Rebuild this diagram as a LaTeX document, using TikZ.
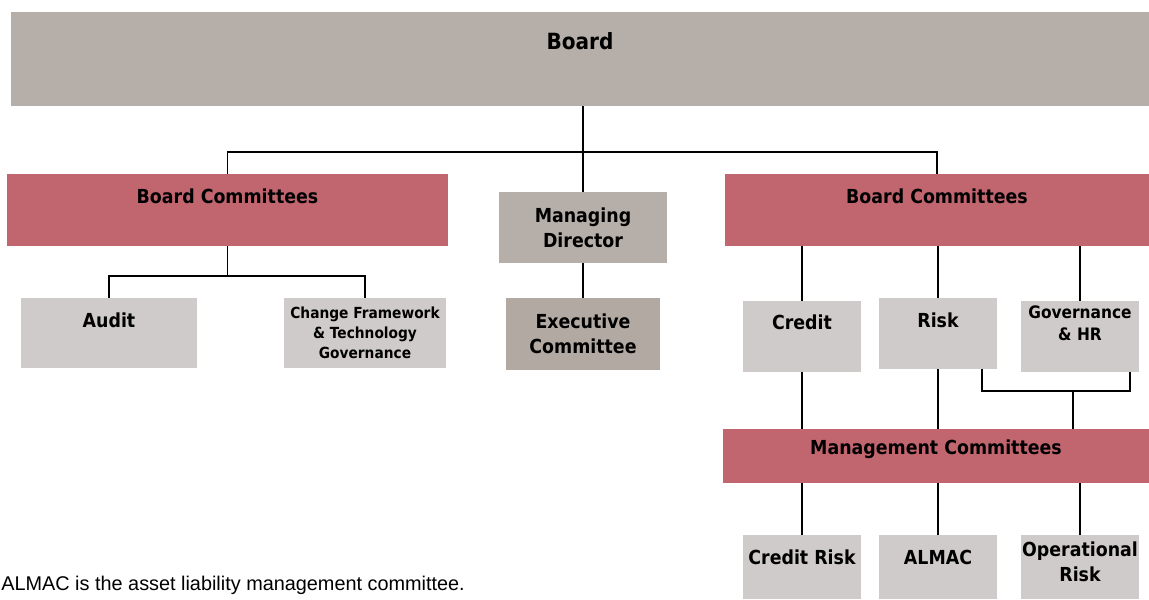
\documentclass[tikz,border=0pt]{standalone}
\usepackage{fontspec}
\setmainfont{DejaVu Sans}[FakeStretch=0.9]
\newfontfamily\notefont{Liberation Sans}
\usetikzlibrary{positioning}

\definecolor{boardtan}{HTML}{B6AEA8}
\definecolor{exectan}{HTML}{B2A9A2}
\definecolor{comrose}{HTML}{C1656F}
\definecolor{subgrey}{HTML}{CFCBCA}

\begin{document}
\begin{tikzpicture}[
      x=0.02cm, y=-0.02cm,
      box/.style={rectangle,inner sep=0pt,align=center,
        font=\bfseries\fontsize{11}{14.2}\selectfont},
      tan/.style={box,fill=boardtan},
      rose/.style={box,fill=comrose,minimum height=1.44cm},
      pale/.style={box,fill=subgrey},
      link/.style={draw=black,line width=0.75pt},
      trunk/.style={draw=black,line width=1pt}
    ]
    \useasboundingbox (0,0) rectangle (1149,599);

    % Board and executive column
    \node[tan,minimum width=22.76cm,minimum height=1.88cm,
      text height=0.746cm,text depth=1.134cm,
      font=\bfseries\fontsize{12.7}{15}\selectfont] (board) at (580,59) {Board};
    \node[tan,minimum width=3.36cm,minimum height=1.42cm] (md) at (583,227.5) {Managing\\Director};
    \node[box,fill=exectan,minimum width=3.08cm,minimum height=1.44cm] (exec) at (583,334) {Executive\\Committee};

    % Board committees, left
    \node[rose,minimum width=8.82cm,text height=0.586cm,text depth=0.854cm] (bcl) at (227.5,210) {Board Committees};
    \node[pale,minimum width=3.52cm,text height=0.58cm,text depth=0.82cm] (audit) at (109,333) {Audit};
    \node[pale,minimum width=3.24cm,minimum height=1.4cm,
      font=\bfseries\fontsize{8.7}{11.3}\selectfont] (change) at (365,333) {Change Framework\\\& Technology\\Governance};

    % Board committees, right
    \node[rose,minimum width=8.48cm,text height=0.586cm,text depth=0.854cm] (bcr) at (937,210) {Board Committees};
    \node[pale,minimum width=2.36cm,text height=0.56cm,text depth=0.86cm] (credit) at (802,336.5) {Credit};
    \node[pale,minimum width=2.36cm,text height=0.58cm,text depth=0.84cm] (risk) at (938,333.5) {Risk};
    \node[pale,minimum width=2.36cm,minimum height=1.42cm] (gov) at (1080,336.5) {};
    \node[box,anchor=north,font=\bfseries\fontsize{9.75}{12.5}\selectfont] (govtext)
      at ([yshift=-0.09cm]gov.north) {Governance\\\& HR};

    % Management committees
    \node[rose,minimum width=8.52cm,minimum height=1.08cm,text height=0.5cm,text depth=0.58cm] (mgmt) at (936,456) {Management Committees};
    \node[pale,minimum width=2.36cm,text height=0.58cm,text depth=0.7cm] (crisk) at (802,567) {Credit Risk};
    \node[pale,minimum width=2.36cm,text height=0.58cm,text depth=0.7cm] (almac) at (938,567) {ALMAC};
    \node[pale,minimum width=2.36cm,minimum height=1.28cm] (oprisk) at (1080,567) {};
    \node[box,anchor=north] (optext) at ([yshift=-0.13cm]oprisk.north) {Operational\\Risk};

    % Footnote
    \node[anchor=base west,inner sep=0pt,font=\notefont\fontsize{11.3}{13}\selectfont] (note)
      at (1,590) {ALMAC is the asset liability management committee.};

    % Connectors
    \coordinate (top) at (583,152);
    \coordinate (leftfork) at (228,276);
    \coordinate (rl) at (982,391);
    \coordinate (rm) at (1073,391);
    \coordinate (rr) at (1130,391);

    \draw[trunk] (board.south -| md.north) -- (md.north);
    \draw[trunk] (md) -- (exec);
    \draw[link] (bcl.north) |- (top) -| (bcr.north);

    \draw[link] (bcl.south) -- (bcl.south |- leftfork);
    \draw[link] (audit.north) |- (leftfork) -| (change.north);

    \draw[link] (bcr.south -| credit.north) -- (credit.north);
    \draw[link] (bcr.south -| risk.north) -- (risk.north);
    \draw[link] (bcr.south -| gov.north) -- (gov.north);

    \draw[link] (credit.south) -- (mgmt.north -| credit.south);
    \draw[link] (risk.south) -- (mgmt.north -| risk.south);
    \draw[link] (risk.south -| rl) -- (rl) -- (rr) -- (gov.south -| rr);
    \draw[link] (rm) -- (mgmt.north -| rm);

    \draw[link] (mgmt.south -| crisk.north) -- (crisk.north);
    \draw[link] (mgmt.south -| almac.north) -- (almac.north);
    \draw[link] (mgmt.south -| oprisk.north) -- (oprisk.north);

  \end{tikzpicture}
\end{document}
